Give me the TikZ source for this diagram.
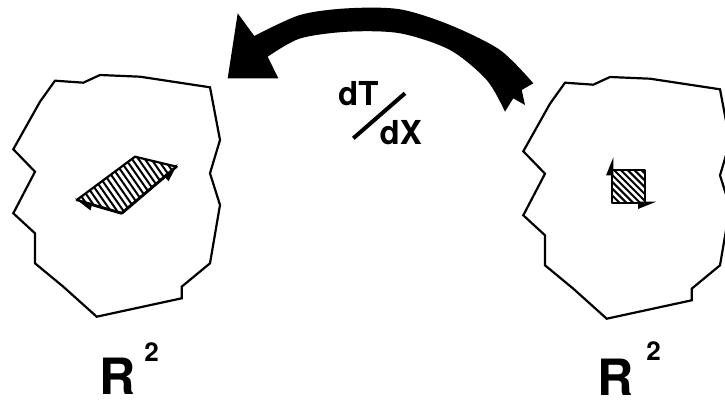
\documentclass[tikz,border=0pt]{standalone}
\usepackage{fontspec}
\setmainfont{TeX Gyre Heros}
\usetikzlibrary{arrows.meta}
\begin{document}
\begin{tikzpicture}[x=1pt,y=-1pt,
  blob/.style={draw=black, line width=2.2pt, line join=miter},
  outl/.style={draw=black, line width=2.2pt, line join=round},
  hatch/.style={line width=2pt},
  vecl/.style={line width=2.8pt, -{Triangle[harpoon,length=15pt,width=11pt]}},
  vecr/.style={line width=2.8pt, -{Triangle[harpoon,swap,length=15pt,width=11pt]}},
  lbl/.style={inner sep=0pt, font=\bfseries\fontsize{33}{33}\selectfont},
  big/.style={inner sep=0pt, font=\bfseries\fontsize{50}{50}\selectfont},
  sup/.style={inner sep=0pt, font=\bfseries\fontsize{26}{26}\selectfont}]
\useasboundingbox (0,0) rectangle (725,403);
\clip (0,0) rectangle (725,403);
\fill[white] (0,0) rectangle (725,403);
% the two regions
\foreach \dx/\dy in {0/0,510/2}{
  \draw[blob, shift={(\dx,\dy)}] (55,80.7) -- (83.3,82.7) -- (100,75) -- (140,76.7) -- (210,87.3) -- (220,140) -- (210,173.3) -- (220,205) -- (210,263.3) -- (181.7,286.7) -- (181.7,298.3) -- (96.7,316.7) -- (63.3,286.7) -- (35,263.3) -- (35,233.3) -- (13.3,213.3) -- (35,171.7) -- (13.3,149.3) -- (40,101.7) -- cycle;
}
% left parallelogram
\coordinate (pA) at (76.7,200);
\coordinate (pB) at (121.7,213.3);
\coordinate (pC) at (176.7,166.7);
\coordinate (pD) at (135,156.7);
\begin{scope}
  \clip (pA) -- (pB) -- (pC) -- (pD) -- cycle;
  \foreach \k in {0,...,30} \draw[hatch] (10+\k*6.4,140) -- ++(60,86);
\end{scope}
\draw[outl] (pA) -- (pB) -- (pC) -- (pD) -- cycle;
\coordinate (pAt) at (74,199.5);
\coordinate (pCt) at (179,164.5);
\draw[vecl] (pB) -- (pAt);
\draw[vecr] (pB) -- (pCt);
% right square
\coordinate (sA) at (612,203);
\coordinate (sB) at (645,203);
\coordinate (sC) at (645,170);
\coordinate (sD) at (612,170);
\begin{scope}
  \clip (sA) -- (sB) -- (sC) -- (sD) -- cycle;
  \foreach \k in {0,...,14} \draw[hatch] (560+\k*6.8,150) -- ++(70,70);
\end{scope}
\draw[outl] (sA) -- (sB) -- (sC) -- (sD) -- cycle;
\coordinate (sX) at (657,203);
\coordinate (sY) at (612,156.5);
\draw[vecr] (sA) -- (sX);
\draw[vecl] (sA) -- (sY);
% big curved arrow
\fill (227.7,78.3) -- (237.7,13.3) -- (254.3,36)
  -- plot[smooth] coordinates {(254.3,36) (300,15) (348,8.3) (400,9.3) (450,25) (500,50) (533.3,83.3)}
  -- (521.7,90) -- (525,105) -- (513.3,98.3) -- (505,111.7)
  -- plot[smooth] coordinates {(505,111.7) (486.7,80) (450,50) (400,33.3) (348,31.7) (300,38.5) (267.7,56.7)}
  -- (278.3,78.3) -- cycle;
% labels
\node[lbl] (dT) at (358.3,93.3) {dT};
\node[lbl] (dX) at (400.8,132.5) {dX};
\coordinate (sl1) at (353.3,138.3);
\coordinate (sl2) at (405,93.3);
\draw[line width=4pt] (sl1) -- (sl2);
\node[big] (R1) at (117.5,376) {R};
\node[sup] (T1) at (151.5,352.5) {2};
\node[big] (R2) at (616,377) {R};
\node[sup] (T2) at (653.5,351) {2};
\end{tikzpicture}
\end{document}
